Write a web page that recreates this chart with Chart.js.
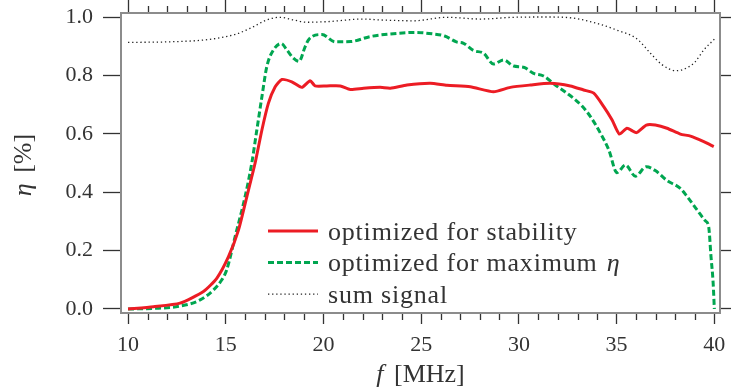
<!DOCTYPE html>
<html>
<head>
<meta charset="utf-8">
<script src="https://cdn.jsdelivr.net/npm/chart.js@4.4.1/dist/chart.umd.min.js"></script>
<style>
  html, body { margin: 0; padding: 0; background: #fff; }
</style>
</head>
<body>
<canvas id="chart" width="731" height="392"></canvas>
<script>
// efficiency curves, f in MHz, eta as fraction
const fStab = [10.0, 11.3, 12.66, 13.86, 14.54, 15.14, 15.65, 16.08, 16.5, 16.85, 17.18, 17.53, 17.87, 18.38,
  18.89, 19.32, 19.57, 20.17, 20.86, 21.37, 22.05, 22.9, 23.42, 24.27, 25.46, 26.32, 27.51, 28.7, 29.56, 30.58,
  31.6, 32.63, 33.31, 33.83, 34.34, 34.77, 35.14, 35.53, 36.01, 36.52, 36.98, 37.58, 38.26, 38.78, 39.46, 39.97];
const etaStab = [0.000, 0.008, 0.020, 0.060, 0.105, 0.179, 0.27, 0.385, 0.499, 0.613, 0.704, 0.761, 0.786, 0.778,
  0.759, 0.782, 0.764, 0.764, 0.764, 0.752, 0.756, 0.759, 0.756, 0.767, 0.773, 0.766, 0.761, 0.744, 0.759, 0.767,
  0.773, 0.764, 0.75, 0.739, 0.693, 0.647, 0.599, 0.619, 0.604, 0.630, 0.630, 0.619, 0.599, 0.592, 0.573, 0.556];

const fMax = [10.0, 11.3, 12.66, 13.69, 14.37, 14.8, 15.05, 15.48, 15.99, 16.33, 16.59, 16.85, 17.1, 17.44, 17.84,
  18.13, 18.46, 18.75, 19.06, 19.26, 19.92, 20.6, 21.4, 22.39, 23.42, 24.7, 25.6, 26.2, 26.8, 27.17, 27.68, 28.19,
  28.7, 29.22, 29.73, 30.24, 30.75, 31.26, 31.86, 32.46, 33.23, 33.66, 34.17, 34.6, 35.02, 35.45, 35.96, 36.52,
  36.98, 37.58, 38.26, 38.61, 39.12, 39.54, 39.71, 39.83, 39.94, 40.0];
const etaMax = [0.0, 0.002, 0.010, 0.031, 0.065, 0.100, 0.134, 0.248, 0.385, 0.499, 0.613, 0.727, 0.83, 0.887,
  0.909, 0.887, 0.859, 0.848, 0.898, 0.924, 0.940, 0.915, 0.916, 0.933, 0.942, 0.947, 0.942, 0.935, 0.915, 0.91,
  0.885, 0.876, 0.839, 0.853, 0.832, 0.828, 0.807, 0.798, 0.767, 0.739, 0.695, 0.659, 0.602, 0.545, 0.467, 0.493,
  0.455, 0.487, 0.474, 0.44, 0.413, 0.385, 0.339, 0.302, 0.282, 0.179, 0.088, 0.0];

const fSum = [10.0, 12.15, 13.86, 14.71, 15.56, 16.42, 17.1, 17.78, 18.46, 19.15, 20.17, 22.05, 22.9, 24.61, 26.32,
  28.02, 29.73, 31.44, 32.8, 34.0, 35.02, 36.04, 36.73, 37.3, 38.05, 38.6, 39.0, 39.46, 40.0];
const etaSum = [0.913, 0.915, 0.921, 0.929, 0.942, 0.967, 0.99, 0.999, 0.99, 0.982, 0.984, 0.993, 0.99, 0.987, 0.999,
  0.993, 0.999, 1.0, 0.996, 0.978, 0.955, 0.925, 0.876, 0.838, 0.816, 0.826, 0.845, 0.887, 0.924];

const labels = ["optimized for stability", "optimized for maximum ", "sum signal"];
const xTitle = ["f", " [MHz]"];
const yTitle = ["\u03b7", " [%]"];

const serif = "'Liberation Serif', 'DejaVu Serif', serif";
const ink = "#333";
const frame = "#8c8c8c";

const pts = (xs, ys) => xs.map((x, i) => ({ x, y: ys[i] }));

// minor ticks every 1 MHz, legend and axis titles with italic symbols
const extras = {
  id: "extras",
  afterDraw(chart) {
    const { ctx, chartArea: a, scales } = chart;
    ctx.save();
    ctx.strokeStyle = ink;
    ctx.lineWidth = 1.3;
    for (let f = 10; f <= 40; f++) {
      if (f % 5 === 0) continue;
      const x = Math.round(scales.x.getPixelForValue(f)) + 0.5;
      ctx.beginPath();
      ctx.moveTo(x, a.bottom + 1); ctx.lineTo(x, a.bottom + 7);
      ctx.moveTo(x, a.top - 1); ctx.lineTo(x, a.top - 7);
      ctx.stroke();
    }

    // legend
    ctx.fillStyle = ink;
    ctx.textBaseline = "middle";
    ctx.letterSpacing = "0.8px";
    const lx = a.left + 147, ly = a.top + 218;
    chart.data.datasets.forEach((ds, i) => {
      const y = ly + i * 31.6;
      ctx.save();
      ctx.strokeStyle = ds.borderColor;
      ctx.lineWidth = ds.borderWidth;
      ctx.setLineDash(ds.borderDash || []);
      ctx.beginPath();
      ctx.moveTo(lx, y); ctx.lineTo(lx + 50, y);
      ctx.stroke();
      ctx.restore();
      ctx.font = "26px " + serif;
      ctx.fillText(ds.label, lx + 60, y + 2);
      if (i === 1) {
        const w = ctx.measureText(ds.label).width;
        ctx.font = "italic 26px " + serif;
        ctx.fillText("\u03b7", lx + 60 + w + 2, y + 2);
      }
    });
    ctx.letterSpacing = "0px";

    // axis titles
    const drawTitle = (parts, cx, cy) => {
      ctx.font = "italic 26px " + serif;
      const w0 = ctx.measureText(parts[0]).width;
      ctx.font = "26px " + serif;
      const w1 = ctx.measureText(parts[1]).width;
      const x0 = cx - (w0 + w1 + 4) / 2;
      ctx.font = "italic 26px " + serif;
      ctx.fillText(parts[0], x0, cy);
      ctx.font = "26px " + serif;
      ctx.fillText(parts[1], x0 + w0 + 4, cy);
    };
    ctx.textAlign = "left";
    ctx.textBaseline = "alphabetic";
    drawTitle(xTitle, (a.left + a.right) / 2, 382);
    ctx.save();
    ctx.translate(31, (a.top + a.bottom) / 2 + 2);
    ctx.rotate(-Math.PI / 2);
    drawTitle(yTitle, 0, 0);
    ctx.restore();
    ctx.restore();
  },
};

const tickFont = { family: serif, size: 22 };
const gridOpts = (len) => ({
  drawOnChartArea: false, drawTicks: true, tickLength: len, tickColor: ink, tickWidth: 1.3,
});
const borderOpts = { display: true, color: frame, width: 2 };
// fixed box sizes so the plot area sits where the reference has it
const fixBox = (w, h) => (s) => {
  if (w !== null) s.width = w;
  if (h !== null) s.height = h;
  s.paddingTop = s.paddingBottom = s.paddingLeft = s.paddingRight = 0;
};

new Chart(document.getElementById("chart"), {
  type: "scatter",
  data: {
    datasets: [
      {
        label: labels[0], data: pts(fStab, etaStab), showLine: true, pointRadius: 0,
        borderColor: "#ec1c24", borderWidth: 3, tension: 0.2,
      },
      {
        label: labels[1], data: pts(fMax, etaMax), showLine: true, pointRadius: 0,
        borderColor: "#00a650", borderWidth: 3, borderDash: [6, 3], cubicInterpolationMode: "monotone",
      },
      {
        label: labels[2], data: pts(fSum, etaSum), showLine: true, pointRadius: 0,
        borderColor: "#222", borderWidth: 1.3, borderDash: [1.3, 2.8], cubicInterpolationMode: "monotone",
      },
    ],
  },
  options: {
    responsive: false,
    animation: false,
    layout: { padding: 0 },
    plugins: { legend: { display: false }, tooltip: { enabled: false } },
    scales: {
      x: {
        type: "linear", position: "bottom", min: 9.64, max: 40.29,
        ticks: { stepSize: 5, includeBounds: false, color: ink, font: tickFont, padding: 8, maxRotation: 0 },
        grid: gridOpts(11), border: borderOpts,
        afterFit: fixBox(null, 79),
      },
      x2: {
        type: "linear", position: "top", min: 9.64, max: 40.29,
        ticks: { stepSize: 5, includeBounds: false, display: false },
        grid: gridOpts(13), border: borderOpts,
        afterFit: fixBox(null, 13),
      },
      y: {
        type: "linear", position: "left", min: -0.0137, max: 1.0137,
        ticks: { stepSize: 0.2, includeBounds: false, color: ink, font: tickFont, padding: 10,
          callback: (v) => v.toFixed(1) },
        grid: gridOpts(18), border: borderOpts,
        afterFit: fixBox(121, null),
      },
      y2: {
        type: "linear", position: "right", min: -0.0137, max: 1.0137,
        ticks: { stepSize: 0.2, includeBounds: false, display: false },
        grid: gridOpts(11), border: borderOpts,
        afterFit: fixBox(11, null),
      },
    },
  },
  plugins: [extras],
});
</script>
</body>
</html>
